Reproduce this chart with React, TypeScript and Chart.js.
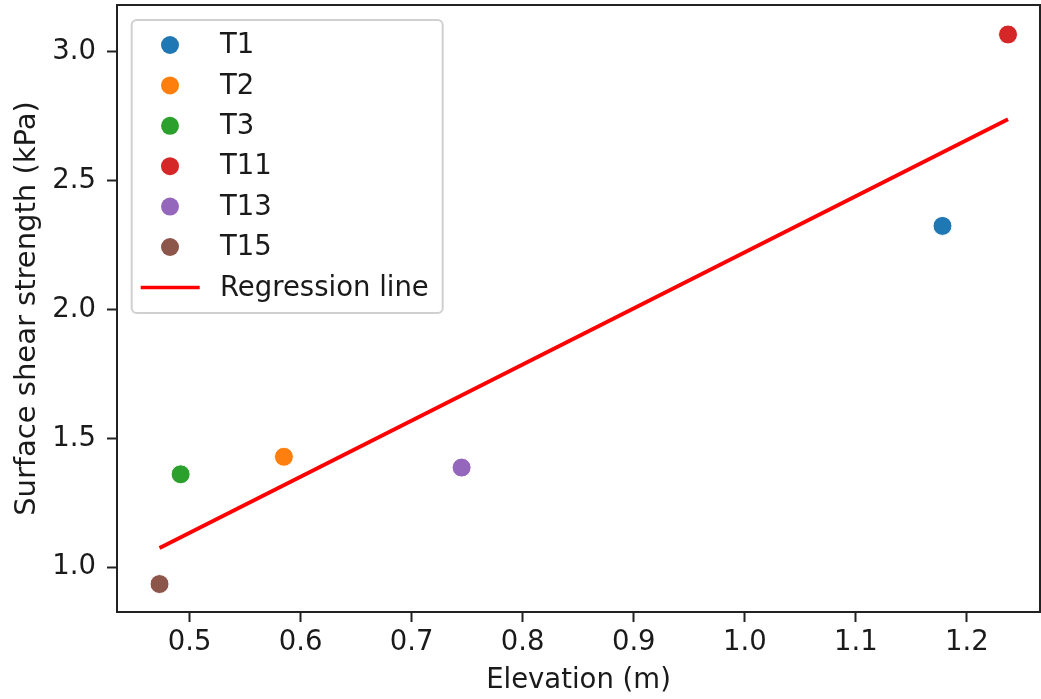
import React, { useEffect, useRef } from "react";
import { Chart, registerables } from "chart.js";

Chart.register(...registerables);

// Transect sites
const siteLabels = ["T1", "T2", "T3", "T11", "T13", "T15"];
const elevation = [1.178, 0.585, 0.492, 1.237, 0.745, 0.473];
const shearStrength = [2.325, 1.429, 1.361, 3.068, 1.387, 0.935];
const siteColors = ["#1f77b4", "#ff7f0e", "#2ca02c", "#d62728", "#9467bd", "#8c564b"];

// Fitted regression line endpoints
const regressionX = [0.473, 1.237];
const regressionY = [1.075, 2.739];

const xTicks = [0.5, 0.6, 0.7, 0.8, 0.9, 1.0, 1.1, 1.2];
const yTicks = [1.0, 1.5, 2.0, 2.5, 3.0];

const FONT = "'DejaVu Sans', 'Liberation Sans', sans-serif";
const FONT_SIZE = 27.5;
const TEXT = "#1a1a1a";

const framePlugin = {
  id: "frame",
  afterDraw(chart: any) {
    const { ctx, chartArea } = chart;
    const { left, top, right, bottom } = chartArea;
    ctx.save();
    ctx.strokeStyle = "#222222";
    ctx.lineWidth = 2;
    ctx.strokeRect(left, top, right - left, bottom - top);

    // legend box
    const bx = left + 14.7;
    const by = top + 15;
    const bw = 311;
    const bh = 293;
    ctx.beginPath();
    ctx.roundRect(bx, by, bw, bh, 5);
    ctx.fillStyle = "rgba(255,255,255,0.85)";
    ctx.fill();
    ctx.strokeStyle = "#d0d0d0";
    ctx.lineWidth = 2;
    ctx.stroke();

    const rowStep = 40.4;
    const firstRow = by + 25;
    ctx.font = `${FONT_SIZE}px ${FONT}`;
    ctx.textBaseline = "middle";
    ctx.textAlign = "left";
    siteLabels.forEach((label, i) => {
      const cy = firstRow + i * rowStep;
      ctx.beginPath();
      ctx.arc(bx + 38.3, cy, 9, 0, Math.PI * 2);
      ctx.fillStyle = siteColors[i];
      ctx.fill();
      ctx.fillStyle = TEXT;
      ctx.fillText(label, bx + 88.3, cy + 1);
    });
    const ly = firstRow + siteLabels.length * rowStep;
    ctx.beginPath();
    ctx.moveTo(bx + 9, ly);
    ctx.lineTo(bx + 68, ly);
    ctx.strokeStyle = "#ff0000";
    ctx.lineWidth = 3.5;
    ctx.stroke();
    ctx.fillStyle = TEXT;
    ctx.fillText("Regression line", bx + 88.3, ly + 1);
    ctx.restore();
  },
};

const clearAxisPadding = (axis: any) => {
  axis.paddingTop = 0;
  axis.paddingBottom = 0;
  axis.paddingLeft = 0;
  axis.paddingRight = 0;
};

export default function App() {
  const canvasRef = useRef<HTMLCanvasElement | null>(null);

  useEffect(() => {
    if (!canvasRef.current) return;
    const datasets: any[] = siteLabels.map((label, i) => ({
      type: "scatter",
      label,
      data: [{ x: elevation[i], y: shearStrength[i] }],
      backgroundColor: siteColors[i],
      borderColor: "#ffffff",
      borderWidth: 1,
      pointRadius: 9.5,
      pointHoverRadius: 9.5,
    }));
    datasets.unshift({
      type: "line",
      label: "Regression line",
      data: regressionX.map((x, i) => ({ x, y: regressionY[i] })),
      borderColor: "#ff0000",
      borderWidth: 3.8,
      pointRadius: 0,
      fill: false,
      order: 10,
    });

    const tickFont = { family: FONT, size: FONT_SIZE };
    const chart = new Chart(canvasRef.current, {
      type: "scatter",
      data: { datasets },
      options: {
        animation: false,
        responsive: true,
        maintainAspectRatio: false,
        layout: { autoPadding: false, padding: { top: 5, right: 1, left: 0, bottom: 0 } },
        plugins: { legend: { display: false }, tooltip: { enabled: false } },
        scales: {
          x: {
            type: "linear",
            min: 0.4347,
            max: 1.2658,
            afterBuildTicks: (axis: any) => {
              axis.ticks = xTicks.map((v) => ({ value: v }));
            },
            afterFit: (axis: any) => {
              axis.height = 87;
              clearAxisPadding(axis);
            },
            ticks: {
              font: tickFont,
              color: TEXT,
              padding: 4,
              maxRotation: 0,
              autoSkip: false,
              callback: (v: any) => Number(v).toFixed(1),
            },
            grid: {
              drawOnChartArea: false,
              drawTicks: true,
              tickLength: 10,
              tickWidth: 2,
              tickColor: "#222222",
            },
            border: { display: true, color: "#222222", width: 2 },
            title: {
              display: true,
              text: "Elevation (m)",
              font: tickFont,
              color: TEXT,
              padding: { top: 0, bottom: 2 },
            },
          },
          y: {
            type: "linear",
            min: 0.8265,
            max: 3.1824,
            afterBuildTicks: (axis: any) => {
              axis.ticks = yTicks.map((v) => ({ value: v }));
            },
            afterFit: (axis: any) => {
              axis.width = 117;
              clearAxisPadding(axis);
            },
            ticks: {
              font: tickFont,
              color: TEXT,
              padding: 11,
              autoSkip: false,
              callback: (v: any) => Number(v).toFixed(1),
            },
            grid: {
              drawOnChartArea: false,
              drawTicks: true,
              tickLength: 10,
              tickWidth: 2,
              tickColor: "#222222",
            },
            border: { display: true, color: "#222222", width: 2 },
            title: {
              display: true,
              text: "Surface shear strength (kPa)",
              font: { family: FONT, size: 29 },
              color: TEXT,
              padding: { top: 10, bottom: 0 },
            },
          },
        },
      },
      plugins: [framePlugin],
    } as any);
    return () => chart.destroy();
  }, []);

  return (
    <div
      style={{
        position: "fixed",
        left: 0,
        top: 0,
        width: 1041,
        height: 699,
        background: "#ffffff",
      }}
    >
      <canvas ref={canvasRef} />
    </div>
  );
}
